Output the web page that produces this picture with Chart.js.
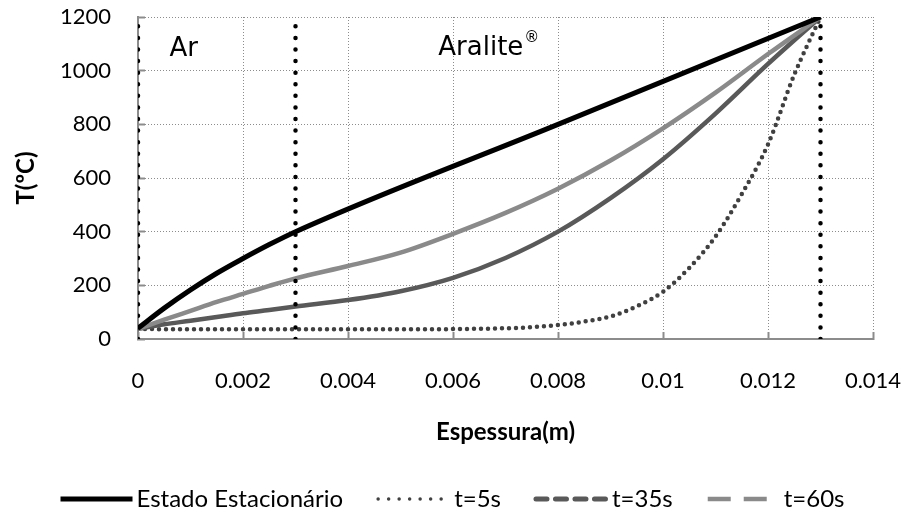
<!DOCTYPE html>
<html>
<head>
<meta charset="utf-8">
<title>Perfil de temperatura</title>
<script src="https://cdn.jsdelivr.net/npm/chart.js@4.4.1/dist/chart.umd.min.js"></script>
<style>
  html, body { margin: 0; padding: 0; background: #ffffff; }
  canvas { display: block; }
</style>
</head>
<body>
<canvas id="chart" width="905" height="517"></canvas>
<script>
// Temperature (ºC) across the air gap (0–3 mm) and the Aralite layer (3–13 mm)
const seriesNames = ['Estado Estacionário', 't=5s', 't=35s', 't=60s'];

const xSteady = [0, 0.0005, 0.001, 0.0015, 0.002, 0.0025, 0.003, 0.008, 0.013];
const tSteady = [40, 115, 183, 245, 300, 352, 400, 800, 1200];

const xT5 = [0, 0.002, 0.004, 0.005, 0.006, 0.007, 0.0075, 0.008, 0.0085, 0.009, 0.0095,
             0.01, 0.0105, 0.011, 0.0115, 0.012, 0.0125, 0.013];
const tT5 = [37, 36, 36, 36, 37, 40, 44, 52, 65, 84, 122, 176, 265, 382, 540, 725, 985, 1200];

const xT35 = [0, 0.0005, 0.001, 0.0015, 0.002, 0.0025, 0.003, 0.004, 0.005, 0.006, 0.007,
              0.008, 0.009, 0.01, 0.011, 0.012, 0.013];
const tT35 = [38, 55, 68, 82, 96, 108, 121, 145, 178, 228, 302, 400, 525, 670, 840, 1025, 1200];

const xT60 = [0, 0.0005, 0.001, 0.0015, 0.002, 0.0025, 0.003, 0.004, 0.005, 0.006, 0.007,
              0.008, 0.009, 0.01, 0.011, 0.012, 0.013];
const tT60 = [38, 72, 105, 138, 168, 198, 226, 272, 322, 392, 470, 560, 665, 785, 918, 1062, 1200];

// Interfaces: hot-side wall, air/Aralite boundary, outer face
const interfaces = [0, 0.003, 0.013];

const xTickValues = [0, 0.002, 0.004, 0.006, 0.008, 0.01, 0.012, 0.014];
const yTickValues = [0, 200, 400, 600, 800, 1000, 1200];

const regionNames = ['Ar', 'Aralite'];

const pairs = (xs, ys) => xs.map((x, i) => ({ x: x, y: ys[i] }));

const curveBase = {
  pointRadius: 0,
  pointHoverRadius: 0,
  fill: false,
  cubicInterpolationMode: 'monotone'
};

const interfaceSets = interfaces.map(b => ({
  label: '',
  data: [{ x: b, y: yTickValues[0] }, { x: b, y: yTickValues[yTickValues.length - 1] }],
  borderColor: '#000000',
  borderWidth: 4.5,
  borderDash: [0, 11.58],
  borderCapStyle: 'round',
  pointRadius: 0,
  fill: false,
  clip: { left: 0, top: 6, right: 6, bottom: 0 }
}));

const datasets = [
  ...interfaceSets,
  Object.assign({}, curveBase, {
    label: seriesNames[0], data: pairs(xSteady, tSteady),
    borderColor: '#000000', borderWidth: 5
  }),
  Object.assign({}, curveBase, {
    label: seriesNames[3], data: pairs(xT60, tT60),
    borderColor: '#8a8a8a', borderWidth: 4.5
  }),
  Object.assign({}, curveBase, {
    label: seriesNames[2], data: pairs(xT35, tT35),
    borderColor: '#595959', borderWidth: 4.5
  }),
  Object.assign({}, curveBase, {
    label: seriesNames[1], data: pairs(xT5, tT5),
    borderColor: '#404040', borderWidth: 4.5,
    borderDash: [0, 7], borderCapStyle: 'round'
  })
];

// Text labels for the two material regions
const regionLabelPlugin = {
  id: 'regionLabels',
  afterDatasetsDraw(chart, args, opts) {
    const { ctx, scales: { x, y } } = chart;
    ctx.save();
    ctx.fillStyle = '#000000';
    ctx.textBaseline = 'alphabetic';
    opts.items.forEach(item => {
      const px = x.getPixelForValue(item.at[0]);
      const py = y.getPixelForValue(item.at[1]);
      ctx.font = opts.font;
      ctx.fillText(item.text, px, py);
      if (item.sup) {
        const w = ctx.measureText(item.text).width;
        ctx.font = opts.supFont;
        ctx.fillText(item.sup, px + w + 1, py - 13);
      }
    });
    ctx.restore();
  }
};

// Legend with line samples under the x-axis title
const lineLegendPlugin = {
  id: 'lineLegend',
  afterDraw(chart, args, opts) {
    const ctx = chart.ctx;
    ctx.save();
    ctx.font = opts.font;
    const widths = opts.labels.map(t => ctx.measureText(t).width);
    let total = 0;
    widths.forEach(w => { total += opts.sample + opts.gap + w; });
    total += opts.spacing * (opts.labels.length - 1);
    let x = (chart.width - total) / 2;
    const y = opts.y;
    opts.labels.forEach((text, i) => {
      const s = opts.styles[i];
      ctx.beginPath();
      ctx.setLineDash(s.dash);
      ctx.lineCap = s.cap;
      ctx.lineWidth = s.width;
      ctx.strokeStyle = s.color;
      ctx.moveTo(x, y);
      ctx.lineTo(x + opts.sample, y);
      ctx.stroke();
      ctx.setLineDash([]);
      ctx.fillStyle = '#000000';
      ctx.textBaseline = 'middle';
      ctx.textAlign = 'left';
      ctx.fillText(text, x + opts.sample + opts.gap, y);
      x += opts.sample + opts.gap + widths[i] + opts.spacing;
    });
    ctx.restore();
  }
};

const axisGray = '#8c8c8c';
const tickFont = { family: 'Lato', size: 22 };
const titleFont = { family: 'Lato', size: 24, weight: 'bold' };

function draw() {
  new Chart(document.getElementById('chart'), {
    type: 'line',
    data: { datasets: datasets },
    options: {
      responsive: false,
      animation: false,
      devicePixelRatio: 1,
      events: [],
      layout: { padding: { left: 0, top: 17, right: 32, bottom: 58 } },
      scales: {
        x: {
          type: 'linear',
          min: 0,
          max: 0.014,
          afterBuildTicks: s => { s.ticks = xTickValues.map(v => ({ value: v })); },
          afterFit: s => { s.height = 120; s.paddingLeft = 0; s.paddingRight = 0; },
          ticks: {
            color: '#000000',
            font: tickFont,
            padding: 36,
            maxRotation: 0,
            callback: v => String(+Number(v).toFixed(3))
          },
          grid: {
            color: axisGray,
            lineWidth: 1,
            tickLength: -7,
            tickColor: axisGray,
            tickWidth: 2,
            tickBorderDash: []
          },
          border: { display: true, color: axisGray, width: 2, dash: [1, 2] },
          title: {
            display: true,
            text: 'Espessura(m)',
            color: '#000000',
            font: titleFont,
            padding: { top: 0, bottom: 12 }
          }
        },
        y: {
          min: 0,
          max: 1200,
          afterBuildTicks: s => { s.ticks = yTickValues.map(v => ({ value: v })); },
          afterFit: s => { s.width = 138; s.paddingTop = 0; s.paddingBottom = 0; },
          ticks: {
            color: '#000000',
            font: tickFont,
            padding: 34,
            callback: v => String(v)
          },
          grid: {
            color: axisGray,
            lineWidth: 1,
            tickLength: -7,
            tickColor: axisGray,
            tickWidth: 2,
            tickBorderDash: []
          },
          border: { display: true, color: axisGray, width: 2, dash: [1, 2] },
          title: {
            display: true,
            text: 'T(ºC)',
            color: '#000000',
            font: titleFont,
            padding: { top: 12, bottom: 0 }
          }
        }
      },
      plugins: {
        legend: { display: false },
        tooltip: { enabled: false },
        regionLabels: {
          font: '26px "DejaVu Sans"',
          supFont: '15px "DejaVu Sans"',
          items: [
            { text: regionNames[0], at: [0.0006, 1055] },
            { text: regionNames[1], sup: '®', at: [0.00572, 1058] }
          ]
        },
        lineLegend: {
          font: '24px Lato',
          y: 499,
          sample: 72,
          gap: 4,
          spacing: 35,
          labels: seriesNames,
          styles: [
            { color: '#000000', width: 5, dash: [], cap: 'butt' },
            { color: '#404040', width: 3.5, dash: [0, 10.5], cap: 'round' },
            { color: '#595959', width: 5, dash: [11, 8.5], cap: 'round' },
            { color: '#8a8a8a', width: 4.5, dash: [23, 13], cap: 'butt' }
          ]
        }
      }
    },
    plugins: [regionLabelPlugin, lineLegendPlugin]
  });
}

if (document.fonts && document.fonts.load) {
  Promise.all([
    document.fonts.load('22px Lato'),
    document.fonts.load('bold 24px Lato'),
    document.fonts.load('26px "DejaVu Sans"')
  ]).then(draw, draw);
} else {
  draw();
}
</script>
</body>
</html>
